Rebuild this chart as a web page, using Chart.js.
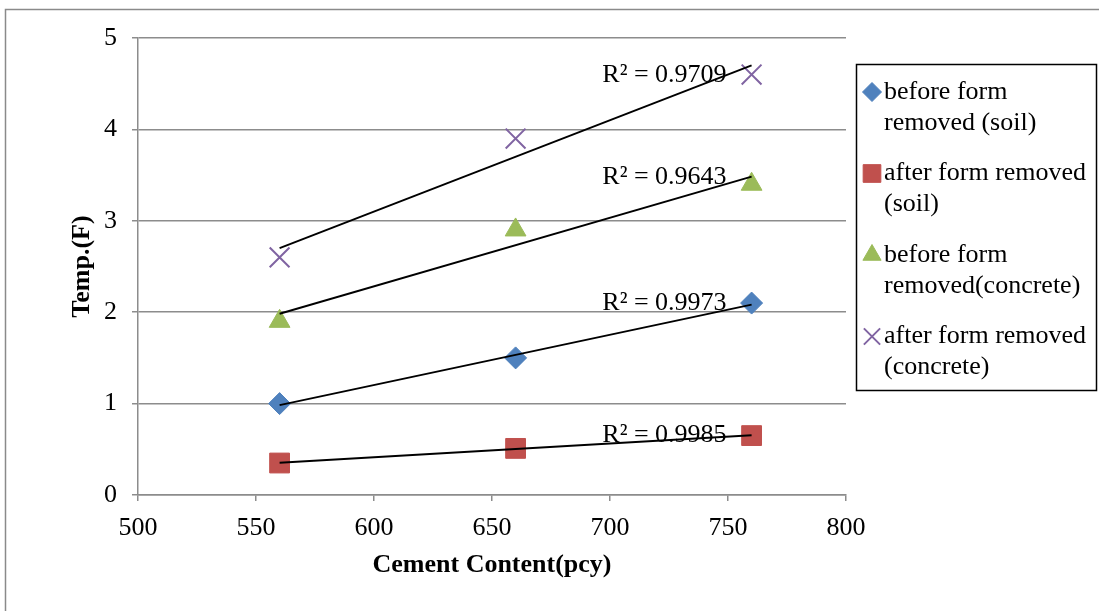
<!DOCTYPE html>
<html>
<head>
<meta charset="utf-8">
<script src="https://cdn.jsdelivr.net/npm/chart.js@4.4.0/dist/chart.umd.min.js"></script>
<style>
  html, body { margin: 0; padding: 0; background: #fff; }
  #wrap { width: 1099px; height: 611px; position: relative; }
</style>
</head>
<body>
<div id="wrap"><canvas id="tempChart" width="1099" height="611"></canvas></div>
<script>
const cementContent = [560, 660, 760];
const beforeSoil = [1.0, 1.5, 2.1];
const afterSoil = [0.35, 0.51, 0.65];
const beforeConcrete = [1.9, 2.9, 3.4];
const afterConcrete = [2.6, 3.9, 4.6];

const rSquaredText = ["R\u00b2 = 0.9973", "R\u00b2 = 0.9985", "R\u00b2 = 0.9643", "R\u00b2 = 0.9709"];
const legendText = [
  ["before form", "removed (soil)"],
  ["after form removed", "(soil)"],
  ["before form", "removed(concrete)"],
  ["after form removed", "(concrete)"]
];

const FONT = "'Liberation Serif', 'Times New Roman', serif";
const GRID = "#8c8c8c";

// look of each series (marker style, size, colour)
const seriesStyle = [
  { pointStyle: "rectRot", radius: 11, legendRadius: 9.5, color: "#4F81BD", borderWidth: 1 },
  { pointStyle: "rect", radius: 14, legendRadius: 12.5, color: "#C0504D", borderWidth: 1 },
  { pointStyle: "triangle", radius: 12, legendRadius: 10.5, color: "#9BBB59", borderWidth: 1 },
  { pointStyle: "crossRot", radius: 14, legendRadius: 11.5, color: "#8064A2", borderWidth: 2 }
];
// small vertical nudges of the R² labels, in pixels
const rLabelNudge = [-1, 0, 1, 10];

const seriesValues = [beforeSoil, afterSoil, beforeConcrete, afterConcrete];

// least squares trend line, evaluated at the first and last x
function trendLine(xs, ys) {
  const n = xs.length;
  const mx = xs.reduce((a, b) => a + b, 0) / n;
  const my = ys.reduce((a, b) => a + b, 0) / n;
  let sxy = 0, sxx = 0;
  for (let i = 0; i < n; i++) {
    sxy += (xs[i] - mx) * (ys[i] - my);
    sxx += (xs[i] - mx) * (xs[i] - mx);
  }
  const slope = sxy / sxx;
  const icpt = my - slope * mx;
  const x0 = Math.min(...xs), x1 = Math.max(...xs);
  return [{ x: x0, y: icpt + slope * x0 }, { x: x1, y: icpt + slope * x1 }];
}

const datasets = [];
seriesValues.forEach((vals, i) => {
  const st = seriesStyle[i];
  datasets.push({
    label: legendText[i].join(" "),
    data: cementContent.map((x, j) => ({ x: x, y: vals[j] })),
    pointStyle: st.pointStyle,
    pointRadius: st.radius,
    pointHoverRadius: st.radius,
    pointBackgroundColor: st.color,
    pointBorderColor: st.color,
    pointBorderWidth: st.borderWidth,
    showLine: false,
    order: 2
  });
});
seriesValues.forEach((vals, i) => {
  datasets.push({
    label: "trend " + i,
    data: trendLine(cementContent, vals),
    showLine: true,
    borderColor: "#000",
    borderWidth: 1.9,
    pointRadius: 0,
    pointHoverRadius: 0,
    order: 1
  });
});

const framePlugin = {
  id: "frame",
  beforeDraw(chart) {
    const ctx = chart.ctx;
    ctx.save();
    ctx.fillStyle = "#fff";
    ctx.fillRect(0, 0, chart.width, chart.height);
    ctx.strokeStyle = "#8a8a8a";
    ctx.lineWidth = 1.5;
    ctx.strokeRect(5.5, 9.5, 1300, 800);
    ctx.restore();
  }
};

const rSquaredPlugin = {
  id: "rSquared",
  beforeDatasetsDraw(chart) {
    const ctx = chart.ctx;
    const xs = chart.scales.x, ys = chart.scales.y;
    ctx.save();
    ctx.font = "26px " + FONT;
    ctx.fillStyle = "#000";
    ctx.textAlign = "right";
    ctx.textBaseline = "middle";
    seriesValues.forEach((vals, i) => {
      const end = chart.data.datasets[4 + i].data[1];
      const px = xs.getPixelForValue(end.x) - 25;
      const py = ys.getPixelForValue(end.y) + rLabelNudge[i];
      ctx.fillText(rSquaredText[i], px, py);
    });
    ctx.restore();
  }
};

const legendPlugin = {
  id: "boxLegend",
  afterDraw(chart) {
    const ctx = chart.ctx;
    const H = Chart.helpers;
    ctx.save();
    ctx.strokeStyle = "#000";
    ctx.lineWidth = 1.5;
    ctx.strokeRect(856.5, 64.5, 240, 326);
    ctx.font = "26px " + FONT;
    ctx.fillStyle = "#000";
    ctx.textAlign = "left";
    ctx.textBaseline = "middle";
    legendText.forEach((lines, i) => {
      const y = 92 + i * 81.5;
      const st = seriesStyle[i];
      ctx.save();
      ctx.fillStyle = st.color;
      ctx.strokeStyle = st.color;
      ctx.lineWidth = st.borderWidth;
      H.drawPoint(ctx, { pointStyle: st.pointStyle, radius: st.legendRadius, rotation: 0, borderWidth: st.borderWidth }, 872, y);
      ctx.restore();
      lines.forEach((t, k) => {
        ctx.fillText(t, 884, y + k * 31);
      });
    });
    ctx.restore();
  }
};

new Chart(document.getElementById("tempChart"), {
  type: "scatter",
  data: { datasets: datasets },
  plugins: [framePlugin, rSquaredPlugin, legendPlugin],
  options: {
    responsive: false,
    animation: false,
    devicePixelRatio: 1,
    layout: { padding: { left: 67, top: 38, right: 253, bottom: 30 } },
    plugins: {
      legend: { display: false },
      tooltip: { enabled: false }
    },
    scales: {
      x: {
        type: "linear",
        min: 500,
        max: 800,
        afterFit(scale) { scale.height = 86; },
        ticks: {
          stepSize: 50,
          padding: 12,
          color: "#000",
          font: { family: FONT, size: 26 },
          maxRotation: 0
        },
        grid: { drawOnChartArea: false, drawTicks: true, tickLength: 6, color: GRID, lineWidth: 1.5 },
        border: { color: GRID, width: 1.5 },
        title: {
          display: true,
          text: "Cement Content(pcy)",
          color: "#000",
          padding: 0,
          font: { family: FONT, size: 26, weight: "bold", lineHeight: 1.2 }
        }
      },
      y: {
        min: 0,
        max: 5,
        afterFit(scale) { scale.width = 71; },
        ticks: {
          stepSize: 1,
          padding: 15,
          color: "#000",
          font: { family: FONT, size: 26 }
        },
        grid: { color: GRID, lineWidth: 1.5, tickLength: 6 },
        border: { color: GRID, width: 1.5 },
        title: {
          display: true,
          text: "Temp.(F)",
          color: "#000",
          padding: 0,
          font: { family: FONT, size: 26, weight: "bold", lineHeight: 1.2 }
        }
      }
    }
  }
});
</script>
</body>
</html>
